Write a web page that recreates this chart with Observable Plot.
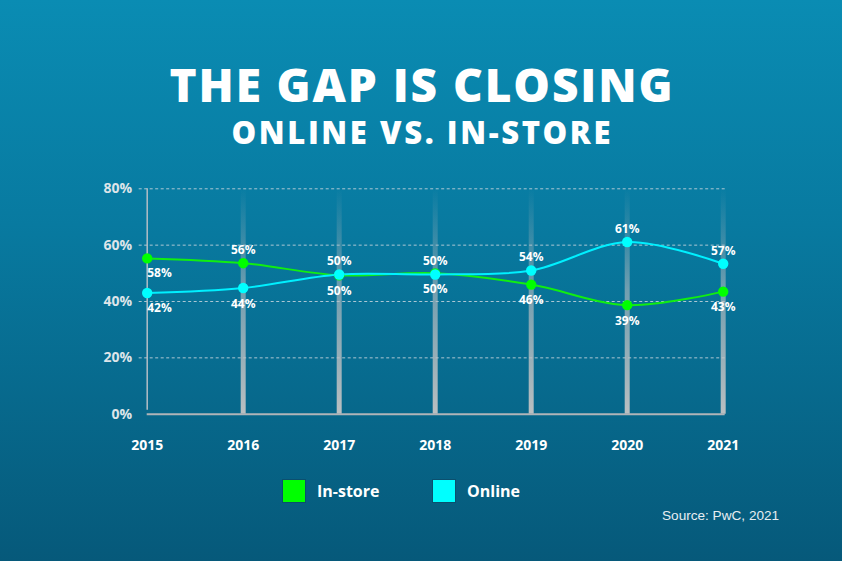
<!DOCTYPE html>
<html>
<head>
<meta charset="utf-8">
<script src="https://cdn.jsdelivr.net/npm/d3@7"></script>
<script src="https://cdn.jsdelivr.net/npm/@observablehq/plot@0.6"></script>
<style>
  html, body { margin: 0; padding: 0; }
  body {
    width: 842px; height: 561px; overflow: hidden; position: relative;
    background: linear-gradient(to bottom, #0a8cb3 0%, #087aa0 40%, #06597a 100%);
    font-family: "Open Sans", sans-serif; color: #fff;
  }
  .title { position: absolute; left: 0; width: 842px; text-align: center; font-weight: 800; line-height: 1; white-space: nowrap; }
  #t1 { top: 61px; font-size: 46px; letter-spacing: 1.9px; text-indent: 1.9px; }
  #t2 { top: 117px; font-size: 31px; letter-spacing: 2.6px; text-indent: 2.6px; }
  #chart { position: absolute; left: 0; top: 170px; }
  #legend { position: absolute; top: 479px; left: 0; width: 842px; height: 24px; }
  .sw { position: absolute; top: 0; width: 22px; height: 22px; border: 1px solid #0b4f6e; }
  .lt { position: absolute; top: 0; line-height: 24px; font-size: 16px; font-weight: 700; color: #fff; }
  #source { position: absolute; left: 662px; top: 508px; font-family: "Liberation Sans", Arial, sans-serif; font-size: 13.6px; color: #e6eef2; }
</style>
</head>
<body>
<div class="title" id="t1">THE GAP IS CLOSING</div>
<div class="title" id="t2">ONLINE VS. IN-STORE</div>
<div id="chart"></div>
<div id="legend"></div>
<div id="source">Source: PwC, 2021</div>
<script>
// ---- data ----
const years = [2015, 2016, 2017, 2018, 2019, 2020, 2021];
const inStore = [55.3, 53.6, 49.3, 50.0, 46.0, 38.7, 43.5];
const online = [43.0, 44.8, 49.6, 49.6, 51.0, 61.1, 53.4];
const inStoreLabels = ["58%", "56%", "50%", "50%", "46%", "39%", "43%"];
const onlineLabels = ["42%", "44%", "50%", "50%", "54%", "61%", "57%"];
const yTicks = [0, 20, 40, 60, 80];
const seriesNames = ["In-store", "Online"];
const seriesColors = ["#11ee11", "#00f0ff"];
const swatchColors = ["#00ff00", "#00ffff"];

const inStoreData = years.map((y, i) => ({year: y, value: inStore[i], label: inStoreLabels[i]}));
const onlineData = years.map((y, i) => ({year: y, value: online[i], label: onlineLabels[i]}));

// which labels sit above their point
const inStoreAbove = new Set([2016]);
const onlineAbove = new Set([2017, 2018, 2019, 2020, 2021]);

function labelMarks(data, aboveSet) {
  const txt = {x: "year", y: "value", text: "label", fill: "#fff", fontWeight: 700, fontSize: 12};
  return [
    Plot.text(data.filter(d => d.year !== years[0] && aboveSet.has(d.year)), {...txt, dy: -13}),
    Plot.text(data.filter(d => d.year !== years[0] && !aboveSet.has(d.year)), {...txt, dy: 16}),
    Plot.text(data.filter(d => d.year === years[0]), {...txt, textAnchor: "start", dy: aboveSet.has(years[0]) ? -13 : 15})
  ];
}

const chart = Plot.plot({
  width: 842,
  height: 290,
  marginTop: 18.3,
  marginBottom: 46.3,
  marginLeft: 146.7,
  marginRight: 119.3,
  style: {background: "transparent", fontFamily: "'Open Sans', sans-serif", overflow: "visible", color: "#fff"},
  x: {domain: [years[0], years[years.length - 1]], axis: null},
  y: {domain: [0, 80], axis: null},
  marks: [
    Plot.ruleY(yTicks.slice(1), {stroke: "#c9d6de", strokeOpacity: 0.85, strokeDasharray: "3,2.5", strokeWidth: 1, insetLeft: -8, insetRight: -2}),
    Plot.ruleX(years.slice(1), {y1: 0, y2: 80, stroke: "url(#barGrad)", strokeWidth: 5, insetBottom: -2}),
    Plot.ruleX([years[0]], {y1: 0, y2: 80, stroke: "#b4bec6", strokeWidth: 1.5, insetTop: -4}),
    Plot.ruleY([0], {stroke: "#b0b4b8", strokeWidth: 2, insetRight: -2}),
    Plot.axisY({ticks: yTicks, tickFormat: d => d + "%", tickSize: 0, tickPadding: 15, fontSize: 14, fontWeight: 700, fill: "#dde4e9", label: null}),
    Plot.axisX({ticks: years, tickFormat: d => String(d), tickSize: 0, tickPadding: 26, fontSize: 14, fontWeight: 700, fill: "#fff", label: null}),
    Plot.line(inStoreData, {x: "year", y: "value", stroke: seriesColors[0], strokeWidth: 2, curve: "catmull-rom"}),
    Plot.line(onlineData, {x: "year", y: "value", stroke: seriesColors[1], strokeWidth: 2, curve: "catmull-rom"}),
    Plot.dot(inStoreData, {x: "year", y: "value", r: 5.2, fill: swatchColors[0]}),
    Plot.dot(onlineData, {x: "year", y: "value", r: 5.2, fill: swatchColors[1]}),
    ...labelMarks(inStoreData, inStoreAbove),
    ...labelMarks(onlineData, onlineAbove)
  ]
});

// gradient for the vertical bars, positioned with the plot's own y scale
const ys = chart.scale("y");
const svg = d3.select(chart);
const grad = svg.insert("defs", ":first-child").append("linearGradient")
  .attr("id", "barGrad").attr("gradientUnits", "userSpaceOnUse")
  .attr("x1", 0).attr("x2", 0)
  .attr("y1", ys.apply(0)).attr("y2", ys.apply(80));
grad.append("stop").attr("offset", "0%").attr("stop-color", "#c4c4c4").attr("stop-opacity", 0.95);
grad.append("stop").attr("offset", "55%").attr("stop-color", "#b8bcc0").attr("stop-opacity", 0.6);
grad.append("stop").attr("offset", "100%").attr("stop-color", "#a0b0b8").attr("stop-opacity", 0);

document.getElementById("chart").appendChild(chart);

// legend
const legend = document.getElementById("legend");
const legendX = [282, 432];
seriesNames.forEach((name, i) => {
  const sw = document.createElement("div");
  sw.className = "sw";
  sw.style.left = legendX[i] + "px";
  sw.style.background = swatchColors[i];
  legend.appendChild(sw);
  const t = document.createElement("div");
  t.className = "lt";
  t.style.left = (legendX[i] + 35) + "px";
  t.textContent = name;
  legend.appendChild(t);
});
</script>
</body>
</html>
